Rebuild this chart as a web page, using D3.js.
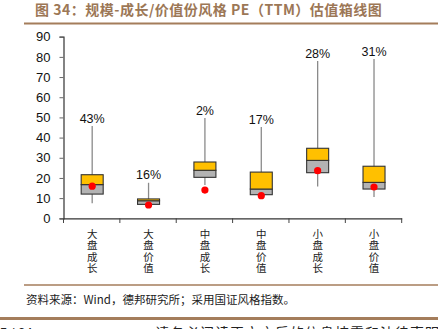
<!DOCTYPE html>
<html><head><meta charset="utf-8">
<script src="https://cdn.jsdelivr.net/npm/d3@7"></script>
<style>
html,body{margin:0;padding:0;background:#fff;}
svg{display:block;}
</style></head>
<body>
<script>
const categories = ["大盘成长","大盘价值","中盘成长","中盘价值","小盘成长","小盘价值"];
const whiskerMin = [7.4, 6.5, 16.5, 10.8, 15.7, 10.6];
const q1        = [12.0, 6.9, 20.3, 11.7, 22.6, 14.5];
const median    = [16.7, 8.7, 23.8, 14.5, 28.7, 17.8];
const q3        = [21.6, 9.6, 27.9, 22.9, 34.7, 25.8];
const whiskerMax= [45.7, 17.6, 49.7, 45.2, 77.9, 78.9];
const current   = [15.9, 6.6, 14.0, 11.2, 23.6, 15.5];
const percentile= ["43%","16%","2%","17%","28%","31%"];
const yTicks = [0,10,20,30,40,50,60,70,80,90];

const W = 438, H = 329;
const svg = d3.select("body").append("svg").attr("width", W).attr("height", H);
const brown = "#a47d5b";
const titleColor = "#9c7756";

// title
svg.append("text").attr("x", 35).attr("y", 14.5)
  .attr("font-family", "'Noto Sans CJK SC', 'Liberation Sans', sans-serif")
  .attr("font-weight", "bold").attr("font-size", 14).attr("fill", titleColor)
  .attr("letter-spacing", 0.5)
  .text("图 34：规模-成长/价值份风格 PE（TTM）估值箱线图");
svg.append("line").attr("x1", 24).attr("x2", W).attr("y1", 23.5).attr("y2", 23.5)
  .attr("stroke", brown).attr("stroke-width", 2);

const x = d3.scaleBand().domain(categories).range([63.5, 401.7]).padding(0);
const y = d3.scaleLinear().domain([0, 90]).range([218.3, 36.7]);

// y axis
const yAxis = svg.append("g").attr("transform", "translate(63.5,0)")
  .call(d3.axisLeft(y).tickValues(yTicks).tickSize(4).tickPadding(9));
yAxis.select(".domain").attr("stroke", "#333").attr("stroke-width", 1.2);
yAxis.selectAll(".tick line").attr("stroke", "#666");
yAxis.selectAll(".tick text").attr("font-family", "'Liberation Sans', Arial, sans-serif")
  .attr("font-size", 13).attr("fill", "#111");

// x axis
const xAxis = svg.append("g").attr("transform", "translate(0,218.3)")
  .call(d3.axisBottom(x).tickSize(0).tickFormat(""));
xAxis.select(".domain").attr("stroke", "#333").attr("stroke-width", 1.2);
const bounds = categories.map(c => x(c)).concat([x.range()[1]]);
svg.append("g").selectAll("line").data(bounds).join("line")
  .attr("x1", d => d).attr("x2", d => d).attr("y1", 218.3).attr("y2", 223)
  .attr("stroke", "#444");

// x labels vertical, one text per character
const xl = svg.append("g");
categories.forEach((c, i) => {
  Array.from(c).forEach((ch, j) => {
    xl.append("text").attr("text-anchor", "middle")
      .attr("font-family", "'Noto Sans CJK SC', sans-serif").attr("font-size", 10.5)
      .attr("fill", "#222")
      .attr("x", x(c) + x.bandwidth() / 2 + 0.5).attr("y", 238 + j * 11.3).text(ch);
  });
});

// boxes
const bw = 22;
const g = svg.append("g");
categories.forEach((c, i) => {
  const cx = x(c) + x.bandwidth() / 2 + 0.5;
  g.append("line").attr("x1", cx).attr("x2", cx)
    .attr("y1", y(whiskerMin[i])).attr("y2", y(whiskerMax[i]))
    .attr("stroke", "#8a8a8a").attr("stroke-width", 1.3);
  g.append("rect").attr("x", cx - bw / 2).attr("width", bw)
    .attr("y", y(median[i])).attr("height", y(q1[i]) - y(median[i]))
    .attr("fill", "#b3b3b3").attr("stroke", "#333").attr("stroke-width", 1.1);
  g.append("rect").attr("x", cx - bw / 2).attr("width", bw)
    .attr("y", y(q3[i])).attr("height", y(median[i]) - y(q3[i]))
    .attr("fill", "#ffc000").attr("stroke", "#333").attr("stroke-width", 1.1);
  g.append("circle").attr("cx", cx).attr("cy", y(current[i])).attr("r", 3.6)
    .attr("fill", "#ff0000");
  g.append("text").attr("x", cx).attr("y", y(whiskerMax[i]) - 3.5)
    .attr("text-anchor", "middle").attr("font-family", "'Liberation Sans', Arial, sans-serif")
    .attr("font-size", 12.5).attr("fill", "#111").text(percentile[i]);
});

// source
svg.append("line").attr("x1", 24).attr("x2", W).attr("y1", 285).attr("y2", 285)
  .attr("stroke", brown).attr("stroke-width", 1.5);
svg.append("text").attr("x", 26).attr("y", 304)
  .attr("font-family", "'Noto Sans CJK SC', sans-serif").attr("font-size", 11.5).attr("fill", "#222")
  .text("资料来源：Wind，德邦研究所；采用国证风格指数。");
svg.append("line").attr("x1", 0).attr("x2", W).attr("y1", 318.5).attr("y2", 318.5)
  .attr("stroke", brown).attr("stroke-width", 3);
svg.append("text").attr("x", 0).attr("y", 337)
  .attr("font-family", "'Liberation Sans', Arial, sans-serif").attr("font-size", 13).attr("fill", "#222")
  .text("5 / 34");
svg.append("text").attr("x", 155).attr("y", 338)
  .attr("font-family", "'Noto Sans CJK SC', sans-serif").attr("font-size", 14).attr("fill", "#222")
  .attr("letter-spacing", 1)
  .text("请务必阅读正文之后的信息披露和法律声明");
</script>
</body></html>
